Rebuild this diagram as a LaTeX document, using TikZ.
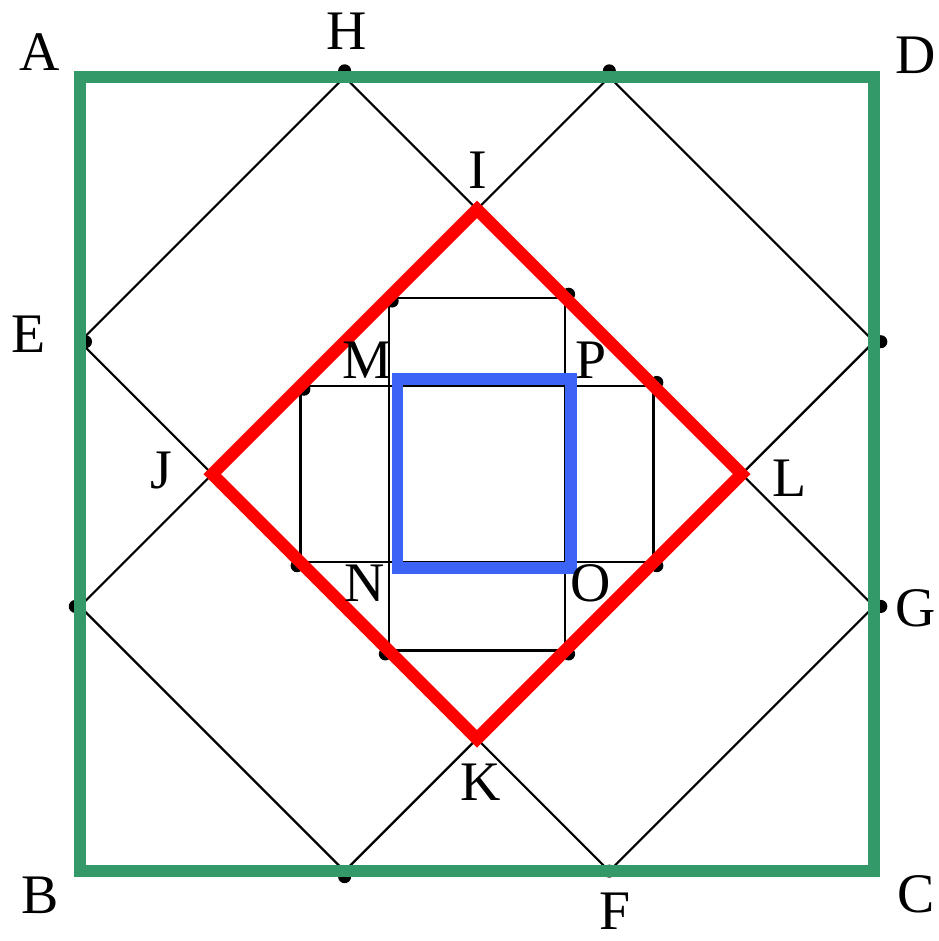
\documentclass[tikz,border=0pt]{standalone}
\usepackage{fontspec}
\setmainfont{Liberation Serif}
\begin{document}
\begin{tikzpicture}[x=3cm,y=3cm,
  thinline/.style={line width=0.7pt, draw=black},
  dotnode/.style={circle, fill=black, inner sep=0pt, minimum size=4.2pt},
  lab/.style={font=\fontsize{18}{20}\selectfont, inner sep=0pt},
]
\definecolor{sqgreen}{RGB}{52,153,104}
\definecolor{sqred}{RGB}{255,0,0}
\definecolor{sqblue}{RGB}{59,99,246}
\useasboundingbox (-0.302,-0.264) rectangle (3.242,3.291);
% corners
\coordinate (A) at (0,3);
\coordinate (B) at (0,0);
\coordinate (C) at (3,0);
\coordinate (D) at (3,3);
% trisection points
\coordinate (H) at (1,3);
\coordinate (T2) at (2,3);
\coordinate (E) at (0,2);
\coordinate (E2) at (0,1);
\coordinate (R1) at (3,2);
\coordinate (G) at (3,1);
\coordinate (F) at (2,0);
\coordinate (B2) at (1,0);
% red diamond
\coordinate (I) at (1.5,2.5);
\coordinate (J) at (0.5,1.5);
\coordinate (K) at (1.5,0.5);
\coordinate (L) at (2.5,1.5);
% inner rectangles corners
\coordinate (v1) at (7/6,13/6);
\coordinate (v2) at (11/6,13/6);
\coordinate (v3) at (11/6,5/6);
\coordinate (v4) at (7/6,5/6);
\coordinate (h1) at (5/6,11/6);
\coordinate (h2) at (13/6,11/6);
\coordinate (h3) at (13/6,7/6);
\coordinate (h4) at (5/6,7/6);
% blue square corners
\coordinate (M0) at (1.2,1.859);
\coordinate (P0) at (1.855,1.859);
\coordinate (O0) at (1.855,1.145);
\coordinate (N0) at (1.2,1.145);

% black lines
\draw[thinline] (E) -- (H) -- (G) -- (F) -- cycle;
\draw[thinline] (T2) -- (R1) -- (B2) -- (E2) -- cycle;
\draw[thinline] (v1) -- (v2) -- (v3) -- (v4) -- cycle;
\draw[thinline] (h1) -- (h2) -- (h3) -- (h4) -- cycle;

% dots on the sides
\node[dotnode] (dH) at ([yshift=2pt]H) {};
\node[dotnode] (dT2) at ([yshift=2pt]T2) {};
\node[dotnode] (dE) at ([xshift=1.8pt]E) {};
\node[dotnode] (dE2) at ([xshift=-1.5pt]E2) {};
\node[dotnode] (dR1) at ([xshift=2.2pt]R1) {};
\node[dotnode] (dG) at ([xshift=2.2pt]G) {};
\node[dotnode] (dF) at (F) {};
\node[dotnode] (dB2) at ([yshift=-1.8pt]B2) {};
% dots at the corners of the inner rectangles
\node[dotnode] (dv1) at ([shift={(1.1pt,-1.1pt)}]v1) {};
\node[dotnode] (dh1) at ([shift={(1.1pt,-1.1pt)}]h1) {};
\node[dotnode] (dv2) at ([shift={(1.1pt,1.1pt)}]v2) {};
\node[dotnode] (dh2) at ([shift={(1.1pt,1.1pt)}]h2) {};
\node[dotnode] (dv3) at ([shift={(1.1pt,-1.1pt)}]v3) {};
\node[dotnode] (dh3) at ([shift={(1.1pt,-1.1pt)}]h3) {};
\node[dotnode] (dv4) at ([shift={(-1.1pt,-1.1pt)}]v4) {};
\node[dotnode] (dh4) at ([shift={(-1.1pt,-1.1pt)}]h4) {};

% green square
\draw[sqgreen, line width=3.9pt] (A) -- (D) -- (C) -- (B) -- cycle;
% red diamond
\draw[sqred, line width=4pt] (I) -- (L) -- (K) -- (J) -- cycle;
% blue square
\draw[sqblue, line width=3.6pt] (M0) -- (P0) -- (O0) -- (N0) -- cycle;

% labels
\node[lab] (lA) at (-0.151,3.094) {A};
\node[lab] (lD) at (3.158,3.083) {D};
\node[lab] (lB) at (-0.151,-0.09) {B};
\node[lab] (lC) at (3.158,-0.087) {C};
\node[lab] (lH) at (1.009,3.174) {H};
\node[lab] (lE) at (-0.196,2.029) {E};
\node[lab] (lG) at (3.158,0.994) {G};
\node[lab] (lF) at (2.021,-0.15) {F};
\node[lab] (lI) at (1.504,2.649) {I};
\node[lab] (lJ) at (0.306,1.515) {J};
\node[lab] (lL) at (2.682,1.485) {L};
\node[lab] (lK) at (1.515,0.337) {K};
\node[lab] (lM) at (1.084,1.931) {M};
\node[lab] (lP) at (1.930,1.931) {P};
\node[lab] (lN) at (1.077,1.088) {N};
\node[lab] (lO) at (1.930,1.088) {O};
\end{tikzpicture}
\end{document}
